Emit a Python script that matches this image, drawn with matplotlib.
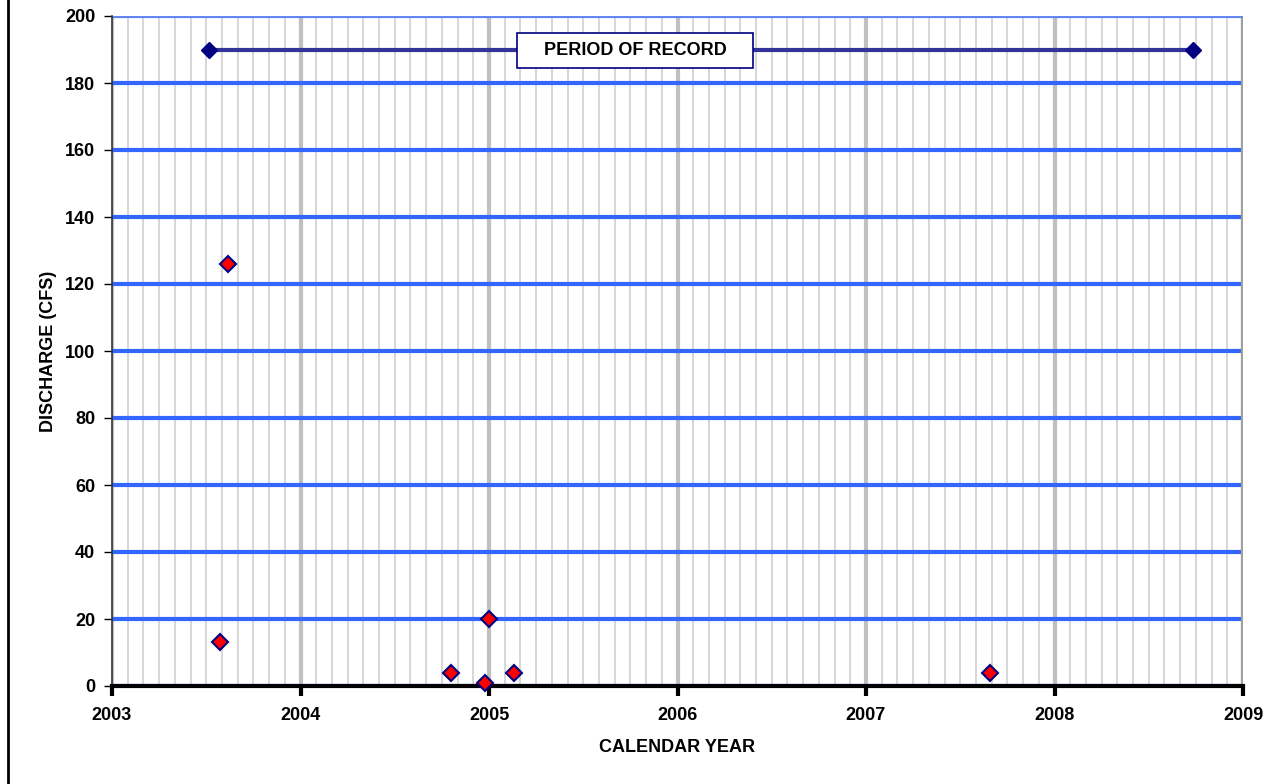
import numpy as np
import matplotlib
matplotlib.use('Agg')
import matplotlib.pyplot as plt
from matplotlib.ticker import MultipleLocator
from matplotlib.lines import Line2D
from matplotlib.patches import Rectangle

# measured discharge (decimal year, cfs)
meas_year = [2003.573, 2003.615, 2004.80, 2004.98, 2005.00, 2005.13, 2007.66]
meas_cfs = [13, 126, 4, 1, 20, 4, 4]

# period of record
por_year = [2003.515, 2008.735]
por_cfs = [190, 190]

plt.rcParams['font.family'] = ['Liberation Sans', 'DejaVu Sans']

fig = plt.figure(figsize=(12.77, 7.84), dpi=100)
ax = fig.add_axes([112/1277, 98/784, 1131/1277, 670/784])

ax.set_xlim(2003, 2009)
ax.set_ylim(0, 200)

# grid
ax.xaxis.set_major_locator(MultipleLocator(1))
ax.xaxis.set_minor_locator(MultipleLocator(1/12))
ax.yaxis.set_major_locator(MultipleLocator(20))
ax.grid(which='minor', axis='x', color='#cccccc', linewidth=1.1, zorder=0)
ax.grid(which='major', axis='x', color='#c0c0c0', linewidth=3, zorder=0)
ax.grid(which='major', axis='y', color='#3366ff', linewidth=3, zorder=1)
ax.set_axisbelow(True)

ax.plot(por_year, por_cfs, color='#333399', linewidth=3, marker='D',
        markersize=8, markerfacecolor='#000080', markeredgecolor='#000080', zorder=3, clip_on=False)
ax.plot(meas_year, meas_cfs, linestyle='none', marker='D', markersize=8,
        markerfacecolor='#ff0000', markeredgecolor='#000080', markeredgewidth=1.5, zorder=4, clip_on=False)

# label box on the period-of-record line
ax.add_patch(Rectangle((2005.149, 184.5), 1.252, 10.4, facecolor='white',
                       edgecolor='#000080', linewidth=1.2, zorder=5))
ax.text(2005.775, 189.7, 'PERIOD OF RECORD', ha='center', va='center',
        fontsize=13, fontweight='bold', zorder=6)

for s in ['top', 'right']:
    ax.spines[s].set_visible(False)
ax.spines['left'].set_color('#333333')
ax.spines['left'].set_linewidth(1.2)
ax.spines['bottom'].set_color('black')
ax.spines['bottom'].set_linewidth(3)
ax.axvline(2009, color='#a0a0a0', linewidth=3, zorder=2)
ax.axhline(200, color='#6688ee', linewidth=2, zorder=2)

ax.tick_params(axis='x', which='major', direction='out', length=7, width=3, pad=8, labelsize=13)
ax.tick_params(axis='x', which='minor', length=0)
ax.tick_params(axis='y', direction='out', length=6, width=1, pad=6, labelsize=13)
for lbl in ax.get_xticklabels() + ax.get_yticklabels():
    lbl.set_fontweight('bold')

ax.set_xlabel('CALENDAR YEAR', fontsize=13, fontweight='bold', labelpad=11)
ax.set_ylabel('DISCHARGE (CFS)', fontsize=13, fontweight='bold', labelpad=6)

fig.add_artist(Line2D([7.5/1277, 7.5/1277], [0, 1], color='black', linewidth=2, transform=fig.transFigure))

fig.savefig('out.png', dpi=100)
